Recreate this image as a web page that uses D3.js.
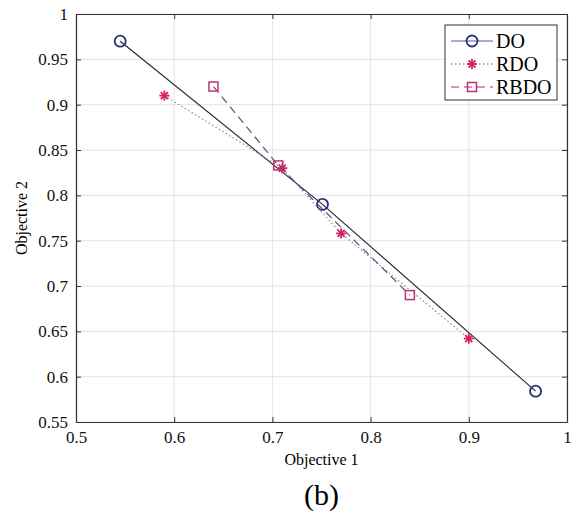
<!DOCTYPE html>
<html>
<head>
<meta charset="utf-8">
<script src="https://cdn.jsdelivr.net/npm/d3@7"></script>
<style>
  body { margin: 0; background: #fff; }
  svg, svg text { font-family: "Liberation Serif", "DejaVu Serif", serif; }
  .tick text { font-size: 17px; fill: #111; }
  .grid line { stroke: #e4e4e4; }
</style>
</head>
<body>
<svg width="577" height="517"></svg>
<script>
// data
const doX = [0.545, 0.751, 0.968]
const doY = [0.970, 0.790, 0.584]
const rdoX = [0.590, 0.710, 0.770, 0.900]
const rdoY = [0.910, 0.830, 0.758, 0.642]
const rbdoX = [0.640, 0.706, 0.840]
const rbdoY = [0.920, 0.833, 0.690]
const xTicks = [0.5, 0.6, 0.7, 0.8, 0.9, 1]
const yTicks = [0.55, 0.6, 0.65, 0.7, 0.75, 0.8, 0.85, 0.9, 0.95, 1]

const svg = d3.select("svg")

const pLeft = 76, pTop = 14, pRight = 567, pBottom = 422

const x = d3.scaleLinear().domain([0.5, 1]).range([pLeft, pRight])
const y = d3.scaleLinear().domain([0.55, 1]).range([pBottom, pTop])

// grid
svg.append("g")
    .attr("class", "grid")
    .selectAll("line")
    .data(xTicks)
    .enter()
    .append("line")
    .attr("x1", d => x(d)).attr("x2", d => x(d))
    .attr("y1", pTop).attr("y2", pBottom)

svg.append("g")
    .attr("class", "grid")
    .selectAll("line")
    .data(yTicks)
    .enter()
    .append("line")
    .attr("x1", pLeft).attr("x2", pRight)
    .attr("y1", d => y(d)).attr("y2", d => y(d))

// axes
const fmt = d => String(+d.toFixed(2))
const axes = [
    [d3.axisBottom(x).tickValues(xTicks).tickFormat(fmt), `translate(0,${pBottom})`, 9],
    [d3.axisTop(x).tickValues(xTicks).tickFormat(""), `translate(0,${pTop})`, 8],
    [d3.axisLeft(y).tickValues(yTicks).tickFormat(fmt), `translate(${pLeft},0)`, 8],
    [d3.axisRight(y).tickValues(yTicks).tickFormat(""), `translate(${pRight},0)`, 8]
]
axes.forEach(([ax, tr, pad]) => {
    const g = svg.append("g")
        .attr("transform", tr)
        .call(ax.tickSizeInner(-5).tickSizeOuter(0).tickPadding(pad))
    g.attr("font-family", null).attr("font-size", null)
    g.select(".domain").attr("stroke", "#333").attr("stroke-width", 1.2)
    g.selectAll(".tick line").attr("stroke", "#333")
})

// axis labels
svg.append("text")
    .attr("x", (pLeft + pRight) / 2)
    .attr("y", 465)
    .attr("text-anchor", "middle")
    .style("font-size", "16px")
    .text("Objective 1")

svg.append("text")
    .attr("transform", `translate(27, ${(pTop + pBottom) / 2}) rotate(-90)`)
    .attr("text-anchor", "middle")
    .style("font-size", "16px")
    .text("Objective 2")

svg.append("text")
    .attr("x", (pLeft + pRight) / 2)
    .attr("y", 505)
    .attr("text-anchor", "middle")
    .style("font-size", "30px")
    .text("(b)")

const line = d3.line()
    .x(d => x(d[0]))
    .y(d => y(d[1]))

const series = [
    { name: "DO", data: d3.zip(doX, doY), color: "#2b2b3a", mark: "#2f2f7a", dash: null, sym: "circle" },
    { name: "RDO", data: d3.zip(rdoX, rdoY), color: "#8a8aa8", mark: "#d61f5b", dash: "1.5,2.5", sym: "star" },
    { name: "RBDO", data: d3.zip(rbdoX, rbdoY), color: "#6a4a7a", mark: "#c0307a", dash: "8,5", sym: "square" }
]

function drawMarker(g, sym, color) {
    if (sym === "circle") {
        g.append("circle").attr("r", 5.5).attr("fill", "none").attr("stroke", color).attr("stroke-width", 1.8)
    } else if (sym === "square") {
        g.append("rect").attr("x", -4.5).attr("y", -4.5).attr("width", 9).attr("height", 9)
            .attr("fill", "none").attr("stroke", color).attr("stroke-width", 1.5)
    } else {
        [0, 45, 90, 135].forEach(a => {
            g.append("line").attr("x1", -5).attr("x2", 5).attr("y1", 0).attr("y2", 0)
                .attr("transform", `rotate(${a})`)
                .attr("stroke", color).attr("stroke-width", 1.8)
        })
    }
}

series.forEach(s => {
    svg.append("path")
        .datum(s.data)
        .attr("d", line)
        .attr("fill", "none")
        .attr("stroke", s.color)
        .attr("stroke-width", 1.2)
        .attr("stroke-dasharray", s.dash)
    svg.append("g")
        .selectAll("g")
        .data(s.data)
        .enter()
        .append("g")
        .attr("transform", d => `translate(${x(d[0])},${y(d[1])})`)
        .each(function () { drawMarker(d3.select(this), s.sym, s.mark) })
})

// legend
const legend = svg.append("g").attr("transform", "translate(445,25)")
legend.append("rect")
    .attr("width", 112).attr("height", 75)
    .attr("fill", "#fff").attr("stroke", "#333").attr("stroke-width", 1)

const legColors = ["#5a5aa8", "#d61f5b", "#b0208a"]
series.forEach((s, i) => {
    const g = legend.append("g").attr("transform", `translate(0, ${16 + i * 23})`)
    g.append("line")
        .attr("x1", 6).attr("x2", 48)
        .attr("stroke", legColors[i])
        .attr("stroke-width", 1.2)
        .attr("stroke-dasharray", s.dash)
    g.append("g").attr("transform", "translate(27,0)").call(sel => drawMarker(sel, s.sym, s.mark))
    g.append("text")
        .attr("x", 51).attr("y", 7)
        .style("font-size", "20px")
        .text(s.name)
})
</script>
</body>
</html>
